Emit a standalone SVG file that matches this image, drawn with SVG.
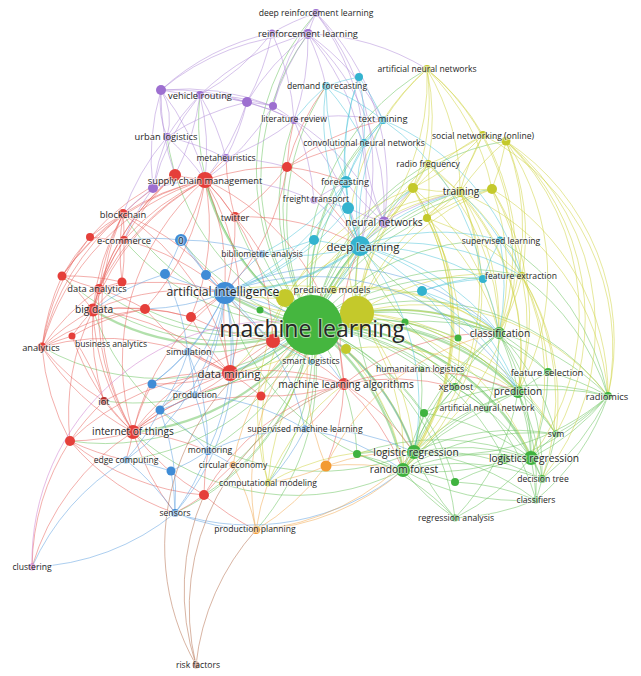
<svg xmlns="http://www.w3.org/2000/svg" width="641" height="676" viewBox="0 0 641 676">
<style>
#connectors path{fill:none;stroke-width:1;stroke-opacity:.5}
#connectors .w path{stroke-width:2.2;stroke-opacity:.5}
.er path{stroke:#e8605a}.eg path{stroke:#66c25a}.eb path{stroke:#5a9ee0}.ey path{stroke:#cdd23a}.ep path{stroke:#ad88d8}.ec path{stroke:#4cc3da}.eo path{stroke:#f2a64a}.ebr path{stroke:#b26a48}.epk path{stroke:#cc77cc}
.nr{fill:#e53f3a}.ng{fill:#3fb33f}.nb{fill:#3f8cd6}.ny{fill:#c4c92b}.np{fill:#9d6fd0}.nc{fill:#33b3cf}.no{fill:#f39a32}.nbr{fill:#a6553a}.npk{fill:#c45ec4}
text{font-family:"Open Sans","Noto Sans","DejaVu Sans",sans-serif;fill:#262626;text-anchor:middle;dominant-baseline:central;stroke:#fff;stroke-width:2.2;stroke-opacity:.5;stroke-linejoin:round;paint-order:stroke}
.xs{font-size:8.6px}.s{font-size:9.3px}.m{font-size:10.2px}.l{font-size:11.4px}.l2{font-size:12.2px}.xl{font-size:23px}
</style>
<rect width="641" height="676" fill="#fff"/>
<g id="connectors">
<g class="eg w">
<path d="M312 325A240 240 0 0 1 499 333"/><path d="M312 325A240 240 0 0 1 518 392"/><path d="M312 325A240 240 0 0 1 414 452"/><path d="M312 325A240 240 0 0 1 403 470"/><path d="M312 325A240 240 0 0 1 531 458"/><path d="M312 325A240 240 0 0 1 360 246"/><path d="M312 325A240 240 0 0 1 225 293"/><path d="M312 325A240 240 0 0 1 230 373"/><path d="M312 325A240 240 0 0 1 205 180"/><path d="M312 325A240 240 0 0 1 133 432"/><path d="M312 325A240 240 0 0 1 93 310"/>
</g>
<g class="eg">
<path d="M312 325A240 240 0 0 1 455 387"/><path d="M312 325A240 240 0 0 1 556 434"/><path d="M312 325A240 240 0 0 1 608 396"/><path d="M312 325A240 240 0 0 1 548 372"/><path d="M312 325A240 240 0 0 1 542 479"/><path d="M312 325A240 240 0 0 1 536 500"/><path d="M312 325A240 240 0 0 1 455 518"/><path d="M312 325A240 240 0 0 1 487 409"/><path d="M312 325A240 240 0 0 1 424 413"/><path d="M312 325A240 240 0 0 1 357 454"/><path d="M312 325A240 240 0 0 1 455 482"/><path d="M312 325A240 240 0 0 1 458 338"/><path d="M312 325A240 240 0 0 1 405 322"/><path d="M312 325A240 240 0 0 1 421 369"/><path d="M312 325A240 240 0 0 1 504 459"/><path d="M312 325A240 240 0 0 1 522 276"/><path d="M312 325A240 240 0 0 1 500 240"/><path d="M312 325A240 240 0 0 1 483 279"/><path d="M312 325A240 240 0 0 1 422 291"/><path d="M312 325A240 240 0 0 1 460 192"/><path d="M312 325A240 240 0 0 1 506 141"/><path d="M312 325A240 240 0 0 1 427 69"/><path d="M312 325A240 240 0 0 1 428 164"/><path d="M312 325A240 240 0 0 1 413 188"/><path d="M312 325A240 240 0 0 1 492 189"/><path d="M312 325A240 240 0 0 1 427 218"/><path d="M312 325A240 240 0 0 1 384 222"/><path d="M312 325A240 240 0 0 1 346 182"/><path d="M312 325A240 240 0 0 1 383 120"/><path d="M312 325A240 240 0 0 1 364 143"/><path d="M312 325A240 240 0 0 1 326 86"/><path d="M312 325A240 240 0 0 1 42 347"/><path d="M312 325A240 240 0 0 1 123 214"/><path d="M312 325A240 240 0 0 1 124 240"/><path d="M312 325A240 240 0 0 1 99 289"/><path d="M312 325A240 240 0 0 1 200 95"/><path d="M312 325A240 240 0 0 1 308 34"/><path d="M312 325A240 240 0 0 1 316 13"/><path d="M312 325A240 240 0 0 1 167 137"/><path d="M312 325A240 240 0 0 1 294 120"/><path d="M312 325A240 240 0 0 1 188 352"/><path d="M312 325A240 240 0 0 1 195 395"/><path d="M312 325A240 240 0 0 1 208 451"/><path d="M312 325A240 240 0 0 1 175 513"/><path d="M312 325A240 240 0 0 1 126 460"/><path d="M312 325A240 240 0 0 1 181 240"/><path d="M312 325A240 240 0 0 1 262 254"/><path d="M312 325A240 240 0 0 1 268 483"/><path d="M312 325A240 240 0 0 1 256 530"/><path d="M312 325A240 240 0 0 1 233 465"/><path d="M312 325A240 240 0 0 1 305 429"/><path d="M312 325A240 240 0 0 1 204 495"/><path d="M312 325A240 240 0 0 1 235 217"/><path d="M312 325A240 240 0 0 1 287 167"/><path d="M312 325A240 240 0 0 1 62 276"/><path d="M312 325A240 240 0 0 1 145 309"/><path d="M312 325A240 240 0 0 1 70 441"/><path d="M312 325A240 240 0 0 1 104 401"/>
<path d="M499 333A240 240 0 0 1 518 392"/><path d="M499 333A240 240 0 0 1 548 372"/><path d="M499 333A240 240 0 0 1 608 396"/><path d="M499 333A240 240 0 0 1 556 434"/><path d="M499 333A240 240 0 0 1 531 458"/><path d="M499 333A240 240 0 0 1 542 479"/><path d="M414 452A240 240 0 0 1 499 333"/><path d="M403 470A240 240 0 0 1 499 333"/><path d="M455 387A240 240 0 0 1 499 333"/><path d="M499 333A240 240 0 0 1 487 409"/>
<path d="M518 392A240 240 0 0 1 608 396"/><path d="M518 392A240 240 0 0 1 548 372"/><path d="M518 392A240 240 0 0 1 531 458"/><path d="M414 452A240 240 0 0 1 518 392"/><path d="M403 470A240 240 0 0 1 518 392"/><path d="M455 387A240 240 0 0 1 518 392"/><path d="M518 392A240 240 0 0 1 556 434"/><path d="M518 392A240 240 0 0 1 542 479"/><path d="M518 392A240 240 0 0 1 536 500"/><path d="M518 392A240 240 0 0 1 455 518"/><path d="M487 409A240 240 0 0 1 518 392"/>
<path d="M548 372A240 240 0 0 1 608 396"/><path d="M608 396A240 240 0 0 1 531 458"/><path d="M608 396A240 240 0 0 1 414 452"/><path d="M608 396A240 240 0 0 1 403 470"/><path d="M608 396A240 240 0 0 1 556 434"/><path d="M424 413A240 240 0 0 1 608 396"/><path d="M608 396A240 240 0 0 1 542 479"/><path d="M608 396A240 240 0 0 1 536 500"/>
<path d="M414 452A240 240 0 0 1 403 470"/><path d="M414 452A240 240 0 0 1 455 387"/><path d="M414 452A240 240 0 0 1 531 458"/><path d="M455 518A240 240 0 0 1 414 452"/><path d="M414 452A240 240 0 0 1 542 479"/><path d="M414 452A240 240 0 0 1 536 500"/><path d="M357 454A240 240 0 0 1 414 452"/><path d="M414 452A240 240 0 0 1 556 434"/><path d="M414 452A240 240 0 0 1 424 413"/>
<path d="M403 470A240 240 0 0 1 455 387"/><path d="M403 470A240 240 0 0 1 556 434"/><path d="M403 470A240 240 0 0 1 542 479"/><path d="M536 500A240 240 0 0 1 403 470"/><path d="M455 518A240 240 0 0 1 403 470"/><path d="M403 470A240 240 0 0 1 455 482"/><path d="M403 470A240 240 0 0 1 531 458"/><path d="M403 470A240 240 0 0 1 487 409"/><path d="M357 454A240 240 0 0 1 403 470"/>
<path d="M531 458A240 240 0 0 1 556 434"/><path d="M531 458A240 240 0 0 1 542 479"/><path d="M531 458A240 240 0 0 1 536 500"/><path d="M504 459A240 240 0 0 1 531 458"/><path d="M531 458A240 240 0 0 1 455 518"/><path d="M548 372A240 240 0 0 1 531 458"/>
<path d="M455 387A240 240 0 0 1 487 409"/><path d="M455 387A240 240 0 0 1 531 458"/><path d="M424 413A240 240 0 0 1 531 458"/><path d="M357 454A240 240 0 0 1 531 458"/><path d="M357 454A240 240 0 0 1 455 518"/><path d="M556 434A240 240 0 0 1 542 479"/><path d="M542 479A240 240 0 0 1 536 500"/><path d="M536 500A240 240 0 0 1 455 518"/><path d="M455 482A240 240 0 0 1 536 500"/><path d="M455 482A240 240 0 0 1 531 458"/><path d="M421 369A240 240 0 0 1 414 452"/><path d="M405 322A240 240 0 0 1 499 333"/><path d="M405 322A240 240 0 0 1 518 392"/>
<path d="M403 470A240 240 0 0 1 225 293"/><path d="M414 452A240 240 0 0 1 360 246"/><path d="M518 392A240 240 0 0 1 360 246"/><path d="M499 333A240 240 0 0 1 360 246"/><path d="M403 470A240 240 0 0 1 133 432"/><path d="M414 452A240 240 0 0 1 93 310"/><path d="M522 276A240 240 0 0 1 608 396"/><path d="M500 240A240 240 0 0 1 608 396"/>
</g>
<g class="ey">
<path d="M357 313A240 240 0 0 1 460 192"/><path d="M357 313A240 240 0 0 1 522 276"/><path d="M357 313A240 240 0 0 1 499 333"/><path d="M357 313A240 240 0 0 1 518 392"/><path d="M357 313A240 240 0 0 1 414 452"/><path d="M357 313A240 240 0 0 1 403 470"/><path d="M357 313A240 240 0 0 1 483 135"/><path d="M357 313A240 240 0 0 1 428 164"/><path d="M357 313A240 240 0 0 1 427 69"/><path d="M357 313A240 240 0 0 1 413 188"/><path d="M357 313A240 240 0 0 1 492 189"/><path d="M357 313A240 240 0 0 1 531 458"/><path d="M357 313A240 240 0 0 1 608 396"/><path d="M357 313A240 240 0 0 1 556 434"/><path d="M357 313A240 240 0 0 1 455 387"/><path d="M357 313A240 240 0 0 1 360 246"/><path d="M357 313A240 240 0 0 1 225 293"/><path d="M357 313A240 240 0 0 1 230 373"/>
<path d="M285 298A240 240 0 0 1 225 293"/><path d="M285 298A240 240 0 0 1 230 373"/><path d="M285 298A240 240 0 0 1 360 246"/><path d="M285 298A240 240 0 0 1 460 192"/><path d="M285 298A240 240 0 0 1 499 333"/>
<path d="M460 192A240 240 0 0 1 483 135"/><path d="M460 192A240 240 0 0 1 506 141"/><path d="M460 192A240 240 0 0 1 413 188"/><path d="M460 192A240 240 0 0 1 492 189"/><path d="M460 192A240 240 0 0 1 428 164"/><path d="M460 192A240 240 0 0 1 522 276"/><path d="M460 192A240 240 0 0 1 427 218"/><path d="M427 69A240 240 0 0 1 460 192"/><path d="M460 192A240 240 0 0 1 499 333"/><path d="M460 192A240 240 0 0 1 518 392"/><path d="M460 192A240 240 0 0 1 414 452"/><path d="M460 192A240 240 0 0 1 608 396"/><path d="M460 192A240 240 0 0 1 403 470"/>
<path d="M483 135A240 240 0 0 1 506 141"/><path d="M483 135A240 240 0 0 1 428 164"/><path d="M483 135A240 240 0 0 1 413 188"/><path d="M427 69A240 240 0 0 1 483 135"/><path d="M483 135A240 240 0 0 1 427 218"/><path d="M483 135A240 240 0 0 1 608 396"/><path d="M483 135A240 240 0 0 1 414 452"/>
<path d="M506 141A240 240 0 0 1 492 189"/><path d="M506 141A240 240 0 0 1 522 276"/><path d="M506 141A240 240 0 0 1 608 396"/><path d="M506 141A240 240 0 0 1 556 434"/><path d="M506 141A240 240 0 0 1 518 392"/><path d="M506 141A240 240 0 0 1 499 333"/><path d="M506 141A240 240 0 0 1 531 458"/><path d="M506 141A240 240 0 0 1 542 479"/>
<path d="M492 189A240 240 0 0 1 522 276"/><path d="M492 189A240 240 0 0 1 608 396"/><path d="M492 189A240 240 0 0 1 499 333"/><path d="M492 189A240 240 0 0 1 518 392"/><path d="M427 218A240 240 0 0 1 492 189"/>
<path d="M413 188A240 240 0 0 1 427 218"/><path d="M413 188A240 240 0 0 1 428 164"/><path d="M413 188A240 240 0 0 1 499 333"/><path d="M413 188A240 240 0 0 1 414 452"/><path d="M413 188A240 240 0 0 1 403 470"/>
<path d="M427 218A240 240 0 0 1 499 333"/><path d="M427 218A240 240 0 0 1 455 387"/><path d="M427 218A240 240 0 0 1 414 452"/><path d="M427 218A240 240 0 0 1 522 276"/><path d="M427 218A240 240 0 0 1 403 470"/>
<path d="M427 69A240 240 0 0 1 428 164"/><path d="M427 69A240 240 0 0 1 413 188"/><path d="M383 120A240 240 0 0 1 427 69"/><path d="M427 69A240 240 0 0 1 360 246"/><path d="M427 69A240 240 0 0 1 492 189"/><path d="M427 69A240 240 0 0 1 499 333"/>
<path d="M522 276A240 240 0 0 1 499 333"/><path d="M522 276A240 240 0 0 1 518 392"/><path d="M522 276A240 240 0 0 1 548 372"/><path d="M522 276A240 240 0 0 1 556 434"/><path d="M522 276A240 240 0 0 1 531 458"/><path d="M522 276A240 240 0 0 1 542 479"/>
<path d="M333 290A240 240 0 0 1 360 246"/><path d="M333 290A240 240 0 0 1 499 333"/><path d="M225 293A240 240 0 0 1 333 290"/>
<path d="M268 483A240 240 0 0 1 344 384"/><path d="M268 483A240 240 0 0 1 357 313"/><path d="M268 483A240 240 0 0 1 460 192"/><path d="M268 483A240 240 0 0 1 413 188"/><path d="M268 483A240 240 0 0 1 414 452"/>
<path d="M346 349A240 240 0 0 1 414 452"/><path d="M346 349A240 240 0 0 1 403 470"/><path d="M346 349A240 240 0 0 1 518 392"/><path d="M428 164A240 240 0 0 1 360 246"/><path d="M428 164A240 240 0 0 1 427 218"/><path d="M428 164A240 240 0 0 1 499 333"/><path d="M428 164A240 240 0 0 1 518 392"/>
</g>
<g class="er">
<path d="M205 180A240 240 0 0 1 175 175"/><path d="M205 180A240 240 0 0 1 287 167"/><path d="M123 214A240 240 0 0 1 205 180"/><path d="M124 240A240 240 0 0 1 205 180"/><path d="M205 180A240 240 0 0 1 235 217"/><path d="M93 310A240 240 0 0 1 205 180"/><path d="M99 289A240 240 0 0 1 205 180"/><path d="M205 180A240 240 0 0 1 225 293"/><path d="M205 180A240 240 0 0 1 230 373"/><path d="M133 432A240 240 0 0 1 205 180"/><path d="M205 180A240 240 0 0 1 226 158"/><path d="M205 180A240 240 0 0 1 145 309"/><path d="M205 180A240 240 0 0 1 273 341"/><path d="M205 180A240 240 0 0 1 344 384"/><path d="M42 347A240 240 0 0 1 205 180"/><path d="M62 276A240 240 0 0 1 205 180"/><path d="M205 180A240 240 0 0 1 181 240"/><path d="M205 180A240 240 0 0 1 191 317"/>
<path d="M123 214A240 240 0 0 1 175 175"/><path d="M124 240A240 240 0 0 1 175 175"/><path d="M99 289A240 240 0 0 1 175 175"/><path d="M90 237A240 240 0 0 1 175 175"/><path d="M93 310A240 240 0 0 1 175 175"/>
<path d="M287 167A240 240 0 0 1 235 217"/><path d="M287 167A240 240 0 0 1 294 120"/><path d="M287 167A240 240 0 0 1 346 182"/><path d="M287 167A240 240 0 0 1 360 246"/><path d="M287 167A240 240 0 0 1 364 143"/><path d="M287 167A240 240 0 0 1 383 120"/><path d="M287 167A240 240 0 0 1 326 86"/><path d="M287 167A240 240 0 0 1 225 293"/>
<path d="M123 214A240 240 0 0 1 124 240"/><path d="M90 237A240 240 0 0 1 123 214"/><path d="M99 289A240 240 0 0 1 123 214"/><path d="M93 310A240 240 0 0 1 123 214"/><path d="M133 432A240 240 0 0 1 123 214"/><path d="M42 347A240 240 0 0 1 123 214"/><path d="M62 276A240 240 0 0 1 123 214"/><path d="M122 282A240 240 0 0 1 123 214"/><path d="M123 214A240 240 0 0 1 230 373"/><path d="M123 214A240 240 0 0 1 225 293"/>
<path d="M124 240A240 240 0 0 1 90 237"/><path d="M99 289A240 240 0 0 1 124 240"/><path d="M93 310A240 240 0 0 1 124 240"/><path d="M124 240A240 240 0 0 1 122 282"/><path d="M124 240A240 240 0 0 1 225 293"/>
<path d="M93 310A240 240 0 0 1 99 289"/><path d="M42 347A240 240 0 0 1 93 310"/><path d="M72 336A240 240 0 0 1 93 310"/><path d="M62 276A240 240 0 0 1 93 310"/><path d="M93 310A240 240 0 0 1 145 309"/><path d="M133 432A240 240 0 0 1 93 310"/><path d="M104 401A240 240 0 0 1 93 310"/><path d="M70 441A240 240 0 0 1 93 310"/><path d="M93 310A240 240 0 0 1 230 373"/><path d="M93 310A240 240 0 0 1 122 282"/><path d="M93 310A240 240 0 0 1 225 293"/><path d="M93 310A240 240 0 0 1 191 317"/>
<path d="M99 289A240 240 0 0 1 62 276"/><path d="M99 289A240 240 0 0 1 122 282"/><path d="M99 289A240 240 0 0 1 145 309"/><path d="M42 347A240 240 0 0 1 99 289"/><path d="M133 432A240 240 0 0 1 99 289"/><path d="M99 289A240 240 0 0 1 225 293"/>
<path d="M42 347A240 240 0 0 1 62 276"/><path d="M133 432A240 240 0 0 1 42 347"/><path d="M70 441A240 240 0 0 1 42 347"/><path d="M104 401A240 240 0 0 1 42 347"/><path d="M42 347A240 240 0 0 1 72 336"/><path d="M42 347A240 240 0 0 1 230 373"/><path d="M42 347A240 240 0 0 1 90 237"/><path d="M42 347A240 240 0 0 1 145 309"/>
<path d="M72 336A240 240 0 0 1 104 401"/><path d="M72 336A240 240 0 0 1 145 309"/><path d="M133 432A240 240 0 0 1 72 336"/>
<path d="M133 432A240 240 0 0 1 70 441"/><path d="M133 432A240 240 0 0 1 104 401"/><path d="M133 432A240 240 0 0 1 230 373"/><path d="M133 432A240 240 0 0 1 344 384"/><path d="M204 495A240 240 0 0 1 133 432"/><path d="M133 432A240 240 0 0 1 126 460"/><path d="M175 513A240 240 0 0 1 133 432"/><path d="M133 432A240 240 0 0 1 208 451"/><path d="M133 432A240 240 0 0 1 261 396"/><path d="M133 432A240 240 0 0 1 225 293"/><path d="M133 432A240 240 0 0 1 152 384"/><path d="M133 432A240 240 0 0 1 195 395"/><path d="M133 432A240 240 0 0 1 273 341"/>
<path d="M32 567A240 240 0 0 1 70 441"/><path d="M32 567A240 240 0 0 1 133 432"/><path d="M126 460A240 240 0 0 1 70 441"/><path d="M204 495A240 240 0 0 1 70 441"/><path d="M70 441A240 240 0 0 1 104 401"/><path d="M70 441A240 240 0 0 1 230 373"/><path d="M175 513A240 240 0 0 1 70 441"/>
<path d="M230 373A240 240 0 0 1 273 341"/><path d="M230 373A240 240 0 0 1 344 384"/><path d="M230 373A240 240 0 0 1 261 396"/><path d="M230 373A240 240 0 0 1 191 317"/><path d="M230 373A240 240 0 0 1 145 309"/><path d="M230 373A240 240 0 0 1 225 293"/><path d="M230 373A240 240 0 0 1 188 352"/><path d="M230 373A240 240 0 0 1 195 395"/><path d="M104 401A240 240 0 0 1 230 373"/><path d="M230 373A240 240 0 0 1 152 384"/>
<path d="M273 341A240 240 0 0 1 344 384"/><path d="M273 341A240 240 0 0 1 191 317"/><path d="M273 341A240 240 0 0 1 225 293"/>
<path d="M344 384A240 240 0 0 1 261 396"/><path d="M344 384A240 240 0 0 1 414 452"/><path d="M344 384A240 240 0 0 1 403 470"/><path d="M344 384A240 240 0 0 1 499 333"/><path d="M344 384A240 240 0 0 1 518 392"/><path d="M344 384A240 240 0 0 1 455 387"/><path d="M344 384A240 240 0 0 1 360 246"/><path d="M344 384A240 240 0 0 1 305 429"/><path d="M344 384A240 240 0 0 1 326 466"/>
<path d="M204 495A240 240 0 0 1 175 513"/><path d="M204 495A240 240 0 0 1 233 465"/><path d="M204 495A240 240 0 0 1 208 451"/><path d="M256 530A240 240 0 0 1 204 495"/><path d="M204 495A240 240 0 0 1 344 384"/>
<path d="M235 217A240 240 0 0 1 262 254"/><path d="M235 217A240 240 0 0 1 226 158"/><path d="M235 217A240 240 0 0 1 225 293"/><path d="M235 217A240 240 0 0 1 360 246"/>
<path d="M145 309A240 240 0 0 1 191 317"/><path d="M191 317A240 240 0 0 1 225 293"/><path d="M62 276A240 240 0 0 1 90 237"/><path d="M62 276A240 240 0 0 1 122 282"/>
</g>
<g class="ep">
<path d="M200 95A240 240 0 0 1 161 90"/><path d="M161 90A240 240 0 0 1 247 102"/><path d="M200 95A240 240 0 0 1 247 102"/><path d="M200 95A240 240 0 0 1 273 106"/><path d="M167 137A240 240 0 0 1 200 95"/><path d="M200 95A240 240 0 0 1 205 180"/><path d="M200 95A240 240 0 0 1 175 175"/><path d="M200 95A240 240 0 0 1 226 158"/><path d="M200 95A240 240 0 0 1 294 120"/><path d="M200 95A240 240 0 0 1 308 34"/><path d="M153 188A240 240 0 0 1 200 95"/>
<path d="M167 137A90 90 0 0 1 161 90"/><path d="M161 90A60 60 0 0 1 167 137"/><path d="M175 175A240 240 0 0 1 161 90"/><path d="M153 188A240 240 0 0 1 161 90"/><path d="M161 90A240 240 0 0 1 308 34"/><path d="M161 90A240 240 0 0 1 205 180"/>
<path d="M247 102A240 240 0 0 1 273 106"/><path d="M247 102A240 240 0 0 1 294 120"/><path d="M247 102A240 240 0 0 1 205 180"/><path d="M167 137A240 240 0 0 1 247 102"/><path d="M247 102A240 240 0 0 1 226 158"/><path d="M247 102A240 240 0 0 1 308 34"/>
<path d="M273 106A240 240 0 0 1 294 120"/><path d="M273 106A240 240 0 0 1 308 34"/><path d="M273 106A240 240 0 0 1 316 13"/><path d="M273 106A240 240 0 0 1 205 180"/><path d="M161 90A240 240 0 0 1 273 106"/>
<path d="M294 120A240 240 0 0 1 226 158"/><path d="M294 120A240 240 0 0 1 314 200"/><path d="M294 120A240 240 0 0 1 384 222"/><path d="M294 120A240 240 0 0 1 360 246"/><path d="M294 120A240 240 0 0 1 383 120"/>
<path d="M308 34A240 240 0 0 1 316 13"/><path d="M272 33A240 240 0 0 1 308 34"/><path d="M308 34A240 240 0 0 1 326 86"/><path d="M308 34A240 240 0 0 1 360 246"/><path d="M308 34A240 240 0 0 1 384 222"/><path d="M308 34A240 240 0 0 1 427 69"/><path d="M308 34A240 240 0 0 1 383 120"/><path d="M308 34A240 240 0 0 1 294 120"/>
<path d="M272 33A240 240 0 0 1 316 13"/><path d="M316 13A240 240 0 0 1 360 246"/><path d="M316 13A240 240 0 0 1 384 222"/><path d="M316 13A240 240 0 0 1 364 143"/>
<path d="M272 33A240 240 0 0 1 200 95"/><path d="M272 33A240 240 0 0 1 294 120"/><path d="M161 90A240 240 0 0 1 272 33"/><path d="M272 33A240 240 0 0 1 247 102"/>
<path d="M153 188A240 240 0 0 1 167 137"/><path d="M167 137A240 240 0 0 1 205 180"/><path d="M167 137A240 240 0 0 1 226 158"/><path d="M123 214A240 240 0 0 1 167 137"/>
<path d="M153 188A240 240 0 0 1 205 180"/><path d="M123 214A240 240 0 0 1 153 188"/><path d="M124 240A240 240 0 0 1 153 188"/>
<path d="M384 222A240 240 0 0 1 360 246"/><path d="M384 222A240 240 0 0 1 348 208"/><path d="M384 222A240 240 0 0 1 346 182"/><path d="M384 222A240 240 0 0 1 460 192"/><path d="M384 222A240 240 0 0 1 364 143"/><path d="M384 222A240 240 0 0 1 413 188"/>
<path d="M314 200A240 240 0 0 1 346 182"/><path d="M314 200A240 240 0 0 1 360 246"/><path d="M314 200A240 240 0 0 1 348 208"/><path d="M205 180A240 240 0 0 1 314 200"/><path d="M226 158A240 240 0 0 1 287 167"/>
</g>
<g class="ec w"><path d="M360 246A240 240 0 0 1 225 293"/></g>
<g class="ec">
<path d="M360 246A240 240 0 0 1 346 182"/><path d="M360 246A240 240 0 0 1 348 208"/><path d="M360 246A240 240 0 0 1 314 240"/><path d="M360 246A240 240 0 0 1 422 291"/><path d="M360 246A240 240 0 0 1 483 279"/><path d="M360 246A240 240 0 0 1 500 240"/><path d="M360 246A240 240 0 0 1 383 120"/><path d="M360 246A240 240 0 0 1 364 143"/><path d="M360 246A240 240 0 0 1 326 86"/><path d="M360 246A240 240 0 0 1 359 77"/><path d="M360 246A240 240 0 0 1 522 276"/><path d="M360 246A240 240 0 0 1 499 333"/><path d="M360 246A240 240 0 0 1 518 392"/><path d="M360 246A240 240 0 0 1 460 192"/><path d="M360 246A240 240 0 0 1 413 188"/><path d="M360 246A240 240 0 0 1 230 373"/><path d="M360 246A240 240 0 0 1 262 254"/><path d="M360 246A240 240 0 0 1 414 452"/>
<path d="M346 182A240 240 0 0 1 348 208"/><path d="M346 182A240 240 0 0 1 326 86"/><path d="M346 182A240 240 0 0 1 359 77"/><path d="M346 182A240 240 0 0 1 383 120"/><path d="M346 182A240 240 0 0 1 364 143"/><path d="M346 182A240 240 0 0 1 314 240"/><path d="M346 182A240 240 0 0 1 225 293"/><path d="M346 182A240 240 0 0 1 262 254"/>
<path d="M326 86A240 240 0 0 1 359 77"/><path d="M326 86A240 240 0 0 1 383 120"/><path d="M326 86A240 240 0 0 1 364 143"/><path d="M294 120A240 240 0 0 1 326 86"/><path d="M359 77A240 240 0 0 1 383 120"/><path d="M359 77A240 240 0 0 1 364 143"/>
<path d="M383 120A240 240 0 0 1 364 143"/><path d="M383 120A240 240 0 0 1 483 279"/><path d="M383 120A240 240 0 0 1 522 276"/>
<path d="M483 279A240 240 0 0 1 500 240"/><path d="M483 279A240 240 0 0 1 522 276"/><path d="M483 279A240 240 0 0 1 499 333"/><path d="M422 291A240 240 0 0 1 483 279"/>
<path d="M422 291A240 240 0 0 1 499 333"/><path d="M422 291A240 240 0 0 1 522 276"/><path d="M422 291A240 240 0 0 1 458 338"/><path d="M422 291A240 240 0 0 1 518 392"/>
<path d="M500 240A240 240 0 0 1 522 276"/><path d="M500 240A240 240 0 0 1 499 333"/><path d="M460 192A240 240 0 0 1 500 240"/>
<path d="M314 240A240 240 0 0 1 225 293"/><path d="M314 240A240 240 0 0 1 262 254"/><path d="M311 362A240 240 0 0 1 225 293"/><path d="M348 208A240 240 0 0 1 225 293"/>
</g>
<g class="eb">
<path d="M225 293A240 240 0 0 1 181 240"/><path d="M225 293A240 240 0 0 1 165 274"/><path d="M225 293A240 240 0 0 1 206 275"/><path d="M225 293A240 240 0 0 1 262 254"/><path d="M225 293A240 240 0 0 1 188 352"/><path d="M225 293A240 240 0 0 1 195 395"/><path d="M225 293A240 240 0 0 1 152 384"/><path d="M225 293A240 240 0 0 1 160 410"/><path d="M225 293A240 240 0 0 1 208 451"/><path d="M225 293A240 240 0 0 1 175 513"/><path d="M225 293A240 240 0 0 1 126 460"/><path d="M225 293A240 240 0 0 1 344 384"/><path d="M225 293A240 240 0 0 1 305 429"/><path d="M225 293A240 240 0 0 1 499 333"/><path d="M225 293A240 240 0 0 1 518 392"/><path d="M225 293A240 240 0 0 1 145 309"/><path d="M225 293A240 240 0 0 1 414 452"/>
<path d="M181 240A240 240 0 0 1 165 274"/><path d="M181 240A240 240 0 0 1 206 275"/><path d="M181 240A240 240 0 0 1 262 254"/><path d="M124 240A240 240 0 0 1 181 240"/>
<path d="M206 275A240 240 0 0 1 262 254"/><path d="M165 274A240 240 0 0 1 188 352"/><path d="M93 310A240 240 0 0 1 165 274"/>
<path d="M188 352A240 240 0 0 1 195 395"/><path d="M188 352A240 240 0 0 1 152 384"/><path d="M188 352A240 240 0 0 1 160 410"/><path d="M188 352A240 240 0 0 1 208 451"/>
<path d="M195 395A240 240 0 0 1 160 410"/><path d="M195 395A240 240 0 0 1 208 451"/><path d="M195 395A240 240 0 0 1 152 384"/><path d="M195 395A240 240 0 0 1 305 429"/>
<path d="M160 410A240 240 0 0 1 126 460"/><path d="M160 410A240 240 0 0 1 208 451"/><path d="M160 410A240 240 0 0 1 175 513"/>
<path d="M208 451A240 240 0 0 1 171 471"/><path d="M208 451A240 240 0 0 1 175 513"/><path d="M208 451A240 240 0 0 1 305 429"/><path d="M208 451A240 240 0 0 1 233 465"/>
<path d="M171 471A240 240 0 0 1 175 513"/><path d="M126 460A240 240 0 0 1 171 471"/><path d="M126 460A240 240 0 0 1 175 513"/><path d="M32 567A240 240 0 0 1 126 460"/><path d="M175 513A240 240 0 0 1 32 567"/>
<path d="M403 470A240 240 0 0 1 175 513"/><path d="M256 530A240 240 0 0 1 175 513"/>
<path d="M305 429A240 240 0 0 1 414 452"/><path d="M305 429A240 240 0 0 1 403 470"/><path d="M305 429A240 240 0 0 1 268 483"/>
</g>
<g class="eo">
<path d="M326 466A240 240 0 0 1 312 325"/><path d="M326 466A240 240 0 0 1 414 452"/><path d="M326 466A240 240 0 0 1 403 470"/><path d="M326 466A240 240 0 0 1 268 483"/><path d="M326 466A240 240 0 0 1 256 530"/><path d="M326 466A240 240 0 0 1 499 333"/>
<path d="M233 465A240 240 0 0 1 256 530"/><path d="M233 465A240 240 0 0 1 312 325"/>
<path d="M256 530A240 240 0 0 1 312 325"/><path d="M403 470A240 240 0 0 1 256 530"/><path d="M256 530A240 240 0 0 1 268 483"/><path d="M414 452A240 240 0 0 1 256 530"/>
</g>
<g class="ebr">
<path d="M196 665A240 240 0 0 1 312 325"/><path d="M196 665A240 240 0 0 1 204 495"/><path d="M196 665A240 240 0 0 1 256 530"/><path d="M196 665A240 240 0 0 1 344 384"/>
</g>
<g class="epk">
<path d="M32 567A240 240 0 0 1 312 325"/>
</g>
</g>
<g id="node-deep-reinforcement-learning"><circle cx="316" cy="13" r="4" class="np"/><text x="316" y="13" class="xs">deep reinforcement learning</text></g>
<g id="node-p272"><circle cx="272" cy="33" r="3.5" class="np"/></g>
<g id="node-reinforcement-learning"><circle cx="308" cy="34" r="5" class="np"/><text x="308" y="33" class="s">reinforcement learning</text></g>
<g id="node-artificial-neural-networks"><circle cx="427" cy="69" r="4" class="ny"/><text x="427" y="69" class="xs">artificial neural networks</text></g>
<g id="node-c359"><circle cx="359" cy="77" r="4" class="nc"/></g>
<g id="node-demand-forecasting"><circle cx="326" cy="86" r="4" class="nc"/><text x="327" y="86" class="xs">demand forecasting</text></g>
<g id="node-p161"><circle cx="161" cy="90" r="5" class="np"/></g>
<g id="node-vehicle-routing"><circle cx="200" cy="95" r="4" class="np"/><text x="200" y="95" class="s">vehicle routing</text></g>
<g id="node-p247"><circle cx="247" cy="102" r="5" class="np"/></g>
<g id="node-p273"><circle cx="273" cy="106" r="4" class="np"/></g>
<g id="node-text-mining"><circle cx="383" cy="120" r="4" class="nc"/><text x="383" y="118" class="s">text mining</text></g>
<g id="node-literature-review"><circle cx="294" cy="120" r="4" class="np"/><text x="294" y="119" class="xs">literature review</text></g>
<g id="node-social-networking"><circle cx="483" cy="135" r="4" class="ny"/><circle cx="506" cy="141" r="4.5" class="ny"/><text x="483" y="136" class="xs">social networking (online)</text></g>
<g id="node-convolutional-neural-networks"><circle cx="364" cy="143" r="4" class="nc"/><text x="364" y="143" class="xs">convolutional neural networks</text></g>
<g id="node-urban-logistics"><circle cx="167" cy="137" r="4" class="np"/><text x="166" y="136" class="s">urban logistics</text></g>
<g id="node-metaheuristics"><circle cx="226" cy="158" r="4" class="np"/><text x="226" y="158" class="xs">metaheuristics</text></g>
<g id="node-radio-frequency"><circle cx="428" cy="164" r="4" class="ny"/><text x="428" y="164" class="xs">radio frequency</text></g>
<g id="node-r287"><circle cx="287" cy="167" r="5" class="nr"/></g>
<g id="node-p153"><circle cx="153" cy="188" r="5" class="np"/></g>
<g id="node-scm2"><circle cx="175" cy="175" r="6" class="nr"/></g>
<g id="node-supply-chain-management"><circle cx="205" cy="180" r="8" class="nr"/><text x="205" y="180" class="s">supply chain management</text></g>
<g id="node-forecasting"><circle cx="346" cy="182" r="6" class="nc"/><text x="345" y="181" class="s">forecasting</text></g>
<g id="node-y414"><circle cx="413" cy="188" r="5" class="ny"/></g>
<g id="node-y492"><circle cx="492" cy="189" r="5" class="ny"/></g>
<g id="node-training"><circle cx="460" cy="192" r="5" class="ny"/><text x="461" y="191" class="m">training</text></g>
<g id="node-freight-transport"><circle cx="314" cy="200" r="3.5" class="np"/><text x="316" y="199" class="xs">freight transport</text></g>
<g id="node-c348"><circle cx="348" cy="208" r="6" class="nc"/></g>
<g id="node-y426"><circle cx="427" cy="218" r="4" class="ny"/></g>
<g id="node-blockchain"><circle cx="123" cy="214" r="5" class="nr"/><text x="123" y="214" class="s">blockchain</text></g>
<g id="node-twitter"><circle cx="235" cy="217" r="5" class="nr"/><text x="235" y="217" class="s">twitter</text></g>
<g id="node-neural-networks"><circle cx="384" cy="222" r="5.5" class="np"/><text x="384" y="222" class="m">neural networks</text></g>
<g id="node-supervised-learning"><circle cx="500" cy="240" r="3.5" class="nc"/><text x="501" y="241" class="xs">supervised learning</text></g>
<g id="node-r90"><circle cx="90" cy="237" r="4" class="nr"/></g>
<g id="node-e-commerce"><circle cx="124" cy="240" r="4" class="nr"/><text x="124" y="240" class="s">e-commerce</text></g>
<g id="node-0"><circle cx="181" cy="240" r="6" class="nb"/><text x="181" y="240" class="s">0</text></g>
<g id="node-c314"><circle cx="314" cy="240" r="5" class="nc"/></g>
<g id="node-bibliometric-analysis"><circle cx="262" cy="254" r="3.5" class="nb"/><text x="262" y="254" class="xs">bibliometric analysis</text></g>
<g id="node-b165"><circle cx="165" cy="274" r="5" class="nb"/></g>
<g id="node-b206"><circle cx="206" cy="275" r="5" class="nb"/></g>
<g id="node-r62"><circle cx="62" cy="276" r="4.5" class="nr"/></g>
<g id="node-r122"><circle cx="122" cy="282" r="4.5" class="nr"/></g>
<g id="node-c483"><circle cx="483" cy="279" r="4" class="nc"/></g>
<g id="node-feature-extraction"><circle cx="522" cy="276" r="4" class="ny"/><text x="521" y="276" class="xs">feature extraction</text></g>
<g id="node-c421"><circle cx="422" cy="291" r="5" class="nc"/></g>
<g id="node-data-analytics"><circle cx="99" cy="289" r="5" class="nr"/><text x="97" y="288" class="s">data analytics</text></g>
<g id="node-r145"><circle cx="145" cy="309" r="5" class="nr"/></g>
<g id="node-big-data"><circle cx="93" cy="310" r="6.5" class="nr"/><text x="94" y="309" class="m">big data</text></g>
<g id="node-r191"><circle cx="191" cy="317" r="5" class="nr"/></g>
<g id="node-business-analytics"><circle cx="72" cy="336" r="3.5" class="nr"/><text x="111" y="344" class="xs">business analytics</text></g>
<g id="node-analytics"><circle cx="42" cy="347" r="4.5" class="nr"/><text x="41" y="347" class="s">analytics</text></g>
<g id="node-simulation"><circle cx="188" cy="352" r="4" class="nb"/><text x="189" y="351" class="s">simulation</text></g>
<g id="node-g458"><circle cx="458" cy="338" r="3.5" class="ng"/></g>
<g id="node-g405"><circle cx="405" cy="322" r="3.5" class="ng"/></g>
<g id="node-classification"><circle cx="499" cy="333" r="6" class="ng"/><text x="500" y="333" class="m">classification</text></g>
<g id="node-humanitarian-logistics"><circle cx="421" cy="369" r="3" class="ng"/><text x="420" y="369" class="xs">humanitarian logistics</text></g>
<g id="node-feature-selection"><circle cx="548" cy="372" r="4" class="ng"/><text x="547" y="372" class="s">feature selection</text></g>
<g id="node-xgboost"><circle cx="455" cy="387" r="4" class="ng"/><text x="456" y="386" class="s">xgboost</text></g>
<g id="node-prediction"><circle cx="518" cy="392" r="6" class="ng"/><text x="518" y="391" class="m">prediction</text></g>
<g id="node-radiomics"><circle cx="608" cy="396" r="4" class="ng"/><text x="607" y="396" class="s">radiomics</text></g>
<g id="node-artificial-neural-network"><circle cx="487" cy="409" r="3.5" class="ng"/><text x="487" y="408" class="xs">artificial neural network</text></g>
<g id="node-g424"><circle cx="424" cy="413" r="4" class="ng"/></g>
<g id="node-svm"><circle cx="556" cy="434" r="3.5" class="ng"/><text x="556" y="434" class="xs">svm</text></g>
<g id="node-g357"><circle cx="357" cy="454" r="4" class="ng"/></g>
<g id="node-g504"><circle cx="504" cy="459" r="5" class="ng"/></g>
<g id="node-logistics-regression"><circle cx="531" cy="458" r="7" class="ng"/><text x="534" y="458" class="m">logistics regression</text></g>
<g id="node-g455"><circle cx="455" cy="482" r="4" class="ng"/></g>
<g id="node-decision-tree"><circle cx="542" cy="479" r="4" class="ng"/><text x="543" y="479" class="xs">decision tree</text></g>
<g id="node-classifiers"><circle cx="536" cy="500" r="3.5" class="ng"/><text x="536" y="500" class="xs">classifiers</text></g>
<g id="node-regression-analysis"><circle cx="455" cy="518" r="3.5" class="ng"/><text x="456" y="518" class="xs">regression analysis</text></g>
<g id="node-random-forest"><circle cx="403" cy="470" r="7" class="ng"/><text x="404" y="469" class="m">random forest</text></g>
<g id="node-logistic-regression"><circle cx="414" cy="452" r="7" class="ng"/><text x="416" y="452" class="m">logistic regression</text></g>
<g id="node-o326"><circle cx="326" cy="466" r="5.5" class="no"/></g>
<g id="node-b152"><circle cx="152" cy="384" r="4.5" class="nb"/></g>
<g id="node-production"><circle cx="195" cy="395" r="3.5" class="nb"/><text x="195" y="395" class="xs">production</text></g>
<g id="node-b160"><circle cx="160" cy="410" r="4.5" class="nb"/></g>
<g id="node-iot"><circle cx="104" cy="401" r="4" class="nr" style="fill:#b8302c"/><text x="104" y="401" class="s">iot</text></g>
<g id="node-r261"><circle cx="261" cy="396" r="4.5" class="nr"/></g>
<g id="node-r70"><circle cx="70" cy="441" r="5" class="nr"/></g>
<g id="node-internet-of-things"><circle cx="133" cy="432" r="7" class="nr"/><text x="133" y="431" class="m">internet of things</text></g>
<g id="node-supervised-machine-learning"><circle cx="305" cy="429" r="3.5" class="nb"/><text x="305" y="429" class="xs">supervised machine learning</text></g>
<g id="node-monitoring"><circle cx="208" cy="451" r="4" class="nb"/><text x="210" y="450" class="xs">monitoring</text></g>
<g id="node-edge-computing"><circle cx="126" cy="460" r="3.5" class="nb"/><text x="126" y="460" class="xs">edge computing</text></g>
<g id="node-b171"><circle cx="171" cy="471" r="4.5" class="nb"/></g>
<g id="node-circular-economy"><circle cx="233" cy="465" r="3.5" class="no"/><text x="233" y="465" class="xs">circular economy</text></g>
<g id="node-computational-modeling"><circle cx="268" cy="483" r="3.5" class="ny"/><text x="268" y="483" class="xs">computational modeling</text></g>
<g id="node-r204"><circle cx="204" cy="495" r="5" class="nr"/></g>
<g id="node-sensors"><circle cx="175" cy="513" r="4" class="nb"/><text x="175" y="513" class="xs">sensors</text></g>
<g id="node-production-planning"><circle cx="256" cy="530" r="4" class="no"/><text x="255" y="529" class="xs">production planning</text></g>
<g id="node-clustering"><circle cx="32" cy="567" r="3.5" class="npk"/><text x="32" y="567" class="xs">clustering</text></g>
<g id="node-risk-factors"><circle cx="196" cy="665" r="3.5" class="nbr"/><text x="198" y="665" class="xs">risk factors</text></g>
<g id="node-smart-logistics"><circle cx="311" cy="362" r="3" class="nc"/><text x="311" y="361" class="xs">smart logistics</text></g>
<g id="node-y346"><circle cx="346" cy="349" r="5" class="ny"/></g>
<g id="node-r273"><circle cx="273" cy="341" r="7" class="nr"/></g>
<g id="node-data-mining"><circle cx="230" cy="373" r="8" class="nr"/><text x="229" y="373" class="l">data mining</text></g>
<g id="node-machine-learning-algorithms"><circle cx="344" cy="384" r="6" class="nr"/><text x="346" y="384" class="m">machine learning algorithms</text></g>
<g id="node-deep-learning"><circle cx="360" cy="246" r="10" class="nc"/><text x="363" y="246" class="l">deep learning</text></g>
<g id="node-g260"><circle cx="260" cy="310" r="3.5" class="ng"/></g>
<g id="node-y285"><circle cx="285" cy="298" r="9" class="ny"/></g>
<g id="node-artificial-intelligence"><circle cx="225" cy="293" r="11" class="nb"/><text x="223" y="291" class="l2">artificial intelligence</text></g>
<g id="node-predictive-models"><circle cx="333" cy="290" r="4" class="ny"/><text x="332" y="289" class="s">predictive models</text></g>
<g id="node-y357"><circle cx="357" cy="313" r="17" class="ny"/></g>
<g id="node-machine-learning"><circle cx="312" cy="325" r="30" class="ng" style="fill:#45b63f"/><text x="312" y="328" class="xl">machine learning</text></g>
</svg>
